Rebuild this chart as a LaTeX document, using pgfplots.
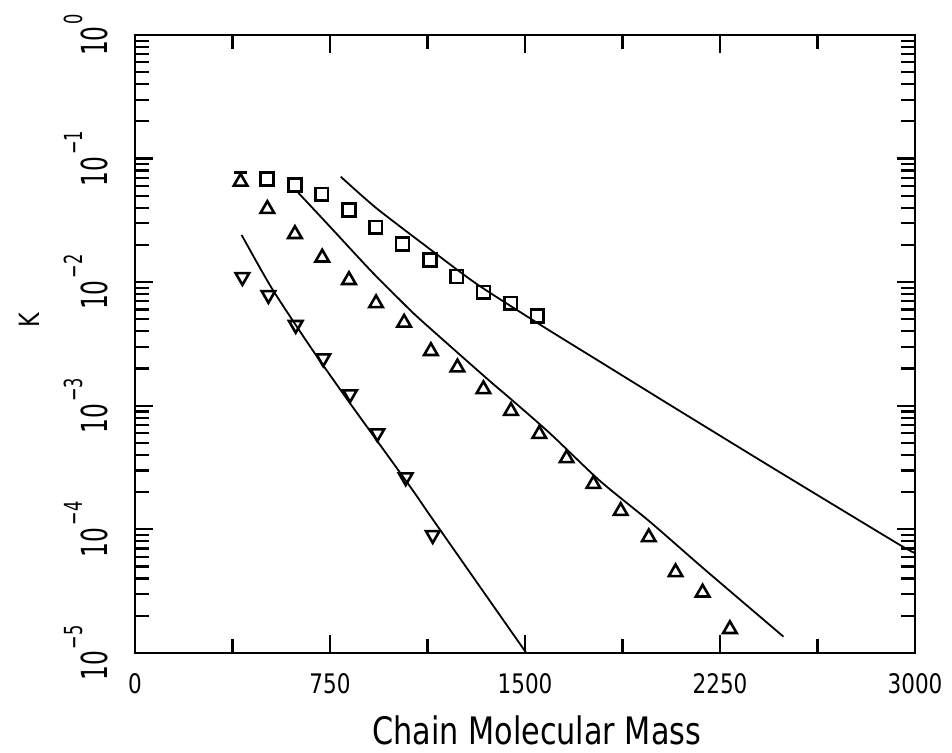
\documentclass[border=0pt]{standalone}
\usepackage{fontspec}
\setmainfont{DejaVu Sans}[FakeStretch=0.8]
\newfontfamily\condfont{DejaVu Sans}[FakeStretch=0.65]
\usepackage{pgfplots}
\pgfplotsset{compat=1.18}

% decade label for the log axis: 10 with a raised exponent
\newcommand{\dec}[1]{{\condfont\fontsize{18}{18}\selectfont 10\hspace{1bp}\raisebox{12.5bp}{\fontsize{12.5}{12.5}\selectfont #1}}}

\begin{document}
\begin{tikzpicture}
\begin{axis}[
  width=390bp, height=309bp, scale only axis,
  xmin=0, xmax=3000, ymin=1e-5, ymax=1, ymode=log,
  axis line style={line width=1.4bp},
  every tick/.style={black, line width=1.1bp},
  major tick length=9bp, minor tick length=7bp,
  xtick={0,750,1500,2250,3000},
  xticklabels={0,750,1500,2250,3000},
  minor x tick num=1,
  xticklabel style={font=\fontsize{13.5}{13.5}\selectfont, inner sep=0pt, anchor=north, yshift=-10bp},
  ytick={1e-5,1e-4,1e-3,1e-2,1e-1,1},
  yticklabels={\dec{−5},\dec{−4},\dec{−3},\dec{−2},\dec{−1},\dec{0}},
  yticklabel style={xshift=-13.5bp, rotate=90, anchor=south, inner sep=0pt},
  xlabel={Chain Molecular Mass},
  xlabel style={font=\fontsize{19}{19}\selectfont, at={(axis description cs:0.515,-0.125)}, anchor=center},
  ylabel={K},
  ylabel style={font=\fontsize{14}{14}\selectfont, at={(axis description cs:-0.135,0.539)}, anchor=center},
  clip=true,
]
% fitted curves
\addplot[black, line width=0.9bp, smooth, tension=0.4] table {
410  0.0241
526  0.00893
680  0.00288
827  0.001047
1058 0.000222
1147 0.000119
1505 1.0e-5
};
\addplot[black, line width=0.9bp, smooth, tension=0.4] table {
624  0.054
750  0.0281
904  0.01256
1019 0.00718
1096 0.00501
1352 0.00167
1442 0.00115
1596 0.000598
1788 0.000247
1981 0.000115
2186 4.84e-5
2494 1.355e-5
};
\addplot[black, line width=0.9bp, smooth, tension=0.4] table {
791  0.0714
929  0.0396
1147 0.01766
1320 0.00948
1570 0.00437
1788 0.002275
2058 0.001014
2455 0.000312
2942 7.48e-5
3000 6.46e-5
};
% measured data
\addplot[only marks, mark=square, mark size=3.2bp, mark options={fill=white, line width=1.3bp}] table {
508  0.0684
615  0.061
718  0.0514
823  0.0384
926  0.0278
1029 0.0204
1135 0.0151
1237 0.0111
1340 0.00828
1445 0.00675
1547 0.00533
};
\addplot[only marks, mark=triangle, mark size=3.9bp, mark options={fill=white, line width=1.3bp}] table {
406  0.065
509  0.0391
615  0.0245
720  0.0158
823  0.0104
927  0.00675
1035 0.0047
1138 0.00277
1240 0.00204
1340 0.00136
1446 0.000908
1555 0.000591
1660 0.000376
1763 0.000233
1868 0.000141
1976 8.63e-5
2079 4.5e-5
2183 3.08e-5
2288 1.56e-5
};
\addplot[only marks, mark=-, mark size=3.4bp, mark options={line width=1.3bp}] table {
406 0.0769
};
\addplot[only marks, mark=triangle, mark size=3.9bp, mark options={fill=white, line width=1.3bp, rotate=180}] table {
413  0.011
513  0.00788
618  0.00451
724  0.00242
827  0.00124
932  0.000599
1041 0.000264
1145 9.0e-5
};
\coordinate (bbll) at (axis description cs:-0.1731,-0.1618);
\coordinate (bbur) at (axis description cs:1.0474,1.0566);
\end{axis}
\pgfresetboundingbox
\path[use as bounding box] (bbll) rectangle (bbur);
\end{tikzpicture}
\end{document}
